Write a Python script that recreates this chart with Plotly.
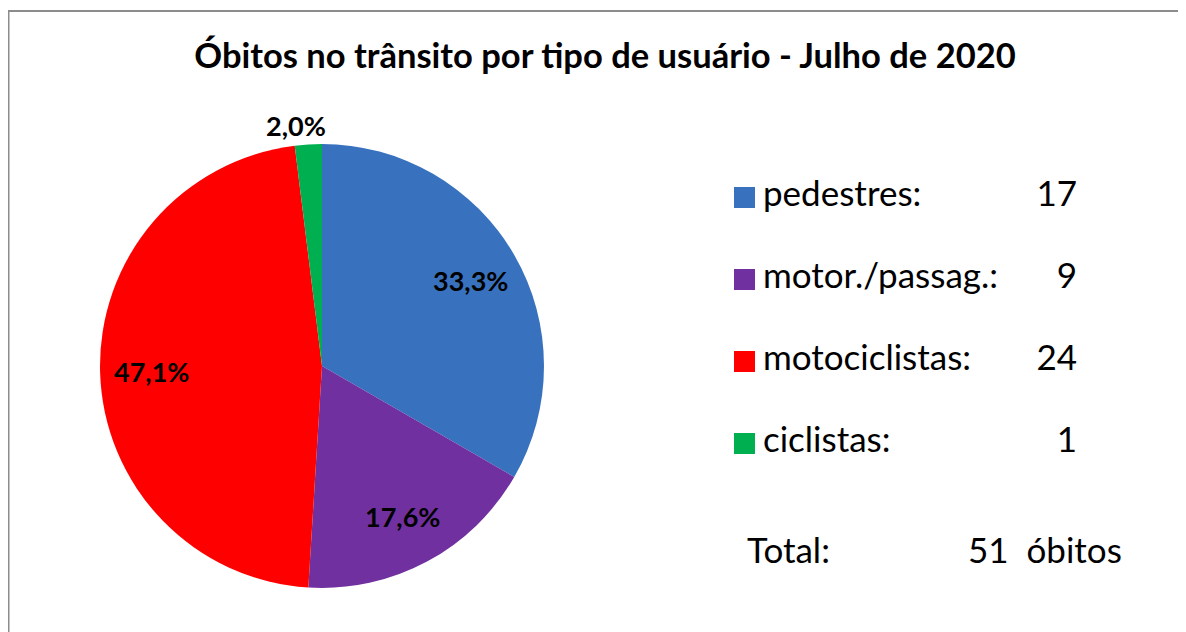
import math
import plotly.graph_objects as go

# ---- data ----
categories = ["pedestres", "motor./passag.", "motociclistas", "ciclistas"]
values = [17, 9, 24, 1]
colors = ["#3872BE", "#7030A0", "#FF0000", "#00B050"]
title = "Óbitos no trânsito por tipo de usuário - Julho de 2020"
total_label = "Total:"
unit_label = "óbitos"

# page is offset by the 8px body margin
OFF = 8
W, H = 1186 - OFF, 632 - OFF
total = sum(values)
FONT = "Lato, Carlito, Calibri, sans-serif"


def px(x):
    return (x - OFF) / W


def py(y):
    return 1 - (y - OFF) / H


# pie geometry (page pixels)
cx, cy, r = 322, 366, 222

fig = go.Figure()

fig.add_trace(go.Pie(
    labels=categories,
    values=values,
    sort=False,
    direction="clockwise",
    rotation=0,
    marker=dict(colors=colors, line=dict(width=0)),
    textinfo="none",
    hoverinfo="label+value+percent",
    showlegend=False,
    domain=dict(x=[px(cx - r), px(cx + r)], y=[py(cy + r), py(cy - r)]),
))

# percentage labels placed from the data (angles of each slice)
annotations = []
cum = 0
for i, v in enumerate(values):
    mid = (cum + v / 2) / total * 2 * math.pi
    cum += v
    pct = f"{v / total * 100:.1f}%".replace(".", ",")
    outside = v / total < 0.05
    rr = r * (1.0 if outside else 0.77)
    lx = cx + rr * math.sin(mid)
    ly = cy - rr * math.cos(mid)
    annotations.append(dict(
        text=pct, x=px(lx), y=py(ly), xref="paper", yref="paper",
        xanchor="center", yanchor="bottom" if outside else "middle",
        xshift=-12 if outside else 0,
        showarrow=False,
        font=dict(size=27, family=FONT, color="black", weight="bold"),
    ))

# ---- custom legend on hidden axes ----
fig.add_trace(go.Scatter(
    x=[744.5 - OFF] * len(categories), y=categories, mode="markers",
    marker=dict(symbol="square", size=21, color=colors, line=dict(width=0)),
    hoverinfo="skip", showlegend=False, xaxis="x", yaxis="y",
))
fig.add_trace(go.Scatter(
    x=[763 - OFF] * len(categories), y=categories, mode="text",
    text=[c + ":" for c in categories], textposition="middle right",
    textfont=dict(size=35, family=FONT, color="black"),
    hoverinfo="skip", showlegend=False, xaxis="x", yaxis="y",
))
fig.add_trace(go.Scatter(
    x=[1077 - OFF] * len(categories), y=categories, mode="text",
    text=[str(v) for v in values], textposition="middle left",
    textfont=dict(size=35, family=FONT, color="black"),
    hoverinfo="skip", showlegend=False, xaxis="x", yaxis="y",
))

step = 82
top_c, bot_c = 197.5, 443.5

annotations += [
    dict(text=total_label, x=px(745), y=py(549), xref="paper", yref="paper",
         xanchor="left", yanchor="middle", showarrow=False,
         font=dict(size=35, family=FONT, color="black")),
    dict(text=f"{total}  {unit_label}", x=px(966), y=py(549), xref="paper", yref="paper",
         xanchor="left", yanchor="middle", showarrow=False,
         font=dict(size=35, family=FONT, color="black")),
]

fig.update_layout(
    width=W, height=H,
    margin=dict(l=0, r=0, t=0, b=0),
    paper_bgcolor="white", plot_bgcolor="rgba(0,0,0,0)",
    font=dict(family=FONT, color="black"),
    title=dict(text=title, x=px(605), xanchor="center", y=py(56), yanchor="middle",
               font=dict(size=34.5, family=FONT, color="black", weight="bold")),
    xaxis=dict(range=[0, W], domain=[0, 1], visible=False, fixedrange=True),
    yaxis=dict(type="category", categoryorder="array", categoryarray=categories,
               range=[len(categories) - 0.5, -0.5], visible=False, fixedrange=True,
               domain=[py(bot_c + step / 2), py(top_c - step / 2)]),
    annotations=annotations,
    shapes=[dict(type="rect", xref="paper", yref="paper",
                 x0=px(8.5), x1=1.02, y0=-0.02, y1=py(11),
                 line=dict(color="#8C8C8C", width=2), fillcolor="rgba(0,0,0,0)", layer="below")],
)

fig.write_html("out.html")
